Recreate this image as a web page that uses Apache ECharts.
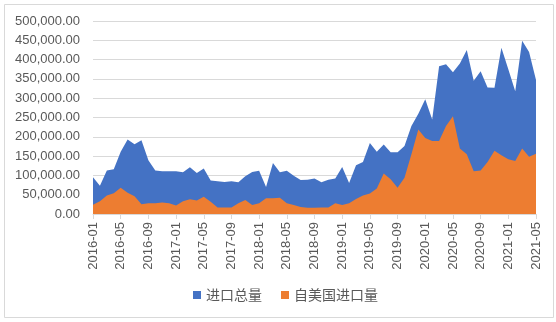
<!DOCTYPE html>
<html><head><meta charset="utf-8">
<script src="https://cdn.jsdelivr.net/npm/echarts@6/dist/echarts.min.js"></script>
<style>html,body{margin:0;padding:0;background:#fff}#c{width:556px;height:322px}</style>
</head><body><div id="c"></div>
<script>
var months = ['2016-01','2016-02','2016-03','2016-04','2016-05','2016-06','2016-07','2016-08','2016-09','2016-10','2016-11','2016-12',
'2017-01','2017-02','2017-03','2017-04','2017-05','2017-06','2017-07','2017-08','2017-09','2017-10','2017-11','2017-12',
'2018-01','2018-02','2018-03','2018-04','2018-05','2018-06','2018-07','2018-08','2018-09','2018-10','2018-11','2018-12',
'2019-01','2019-02','2019-03','2019-04','2019-05','2019-06','2019-07','2019-08','2019-09','2019-10','2019-11','2019-12',
'2020-01','2020-02','2020-03','2020-04','2020-05','2020-06','2020-07','2020-08','2020-09','2020-10','2020-11','2020-12',
'2021-01','2021-02','2021-03','2021-04','2021-05'];
var totalImports = [95000,73000,113000,116000,161000,193000,181000,191000,139000,113000,111000,111000,
111000,108000,121000,106000,118000,87000,85000,83000,85000,82000,98000,109000,
112000,70000,132000,108000,112000,99000,88000,89000,92000,82000,89000,92000,
122000,80000,126000,135000,184000,161000,180000,160000,160000,176000,228000,260000,
297000,245000,383000,388000,367000,390000,425000,345000,370000,328000,327000,431000,
375000,318000,449000,420000,347000];
var usImports = [24000,33000,48000,54000,68000,55000,46000,25000,28000,28000,30000,28000,
22000,33000,38000,35000,45000,32000,17000,17000,17000,28000,36000,23000,
28000,41000,41000,42000,28000,23000,18000,16000,16000,17000,17000,28000,
23000,28000,39000,48000,53000,66000,105000,90000,68000,94000,155000,219000,
197000,189000,189000,228000,253000,170000,155000,111000,113000,135000,164000,152000,
142000,137000,170000,148000,156000];
var seriesNames = ['进口总量','自美国进口量'];

var chart = echarts.init(document.getElementById('c'));
var txt = '#595959';
chart.setOption({
  animation:false,
  graphic:[{type:'rect',shape:{x:4.5,y:4.5,width:549,height:313},style:{fill:'none',stroke:'#d9d9d9',lineWidth:1}}],
  grid:{left:93,right:20,top:21,bottom:108},
  legend:{top:283,left:188,itemWidth:8,itemHeight:8,itemGap:19,icon:'rect',
    textStyle:{color:txt,fontSize:14,fontFamily:'Noto Sans CJK SC'},data:seriesNames},
  xAxis:{type:'category',boundaryGap:false,data:months,
    axisLine:{lineStyle:{color:'#d9d9d9'}},
    axisTick:{interval:3,length:5,lineStyle:{color:'#d9d9d9'}},
    axisLabel:{interval:3,rotate:90,margin:8,color:txt,fontSize:13,fontFamily:'Liberation Sans'}},
  yAxis:{type:'value',min:0,max:500000,interval:50000,
    axisLine:{show:false},axisTick:{show:false},
    splitLine:{lineStyle:{color:'#d9d9d9'}},
    axisLabel:{color:txt,fontSize:13,fontFamily:'Liberation Sans',margin:13,
      formatter:function(v){return v.toLocaleString('en-US',{minimumFractionDigits:2,maximumFractionDigits:2});}}},
  series:[
    {name:seriesNames[0],type:'line',data:totalImports,symbol:'none',lineStyle:{width:0},
      itemStyle:{color:'#4472C4'},areaStyle:{color:'#4472C4',opacity:1}},
    {name:seriesNames[1],type:'line',data:usImports,symbol:'none',lineStyle:{width:0},
      itemStyle:{color:'#ED7D31'},areaStyle:{color:'#ED7D31',opacity:1}}
  ]
});
</script></body></html>
